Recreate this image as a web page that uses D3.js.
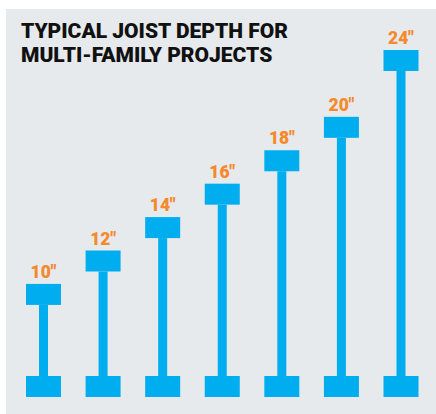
<!DOCTYPE html>
<html>
<head>
<meta charset="utf-8">
<script src="https://cdn.jsdelivr.net/npm/d3@7"></script>
<style>
  body { margin: 0; background: #fff; }
  svg { display: block; }
</style>
</head>
<body>
<svg id="chart" width="436" height="414"></svg>
<script>
// joist depths in inches, one I-beam per value
var depths = [10, 12, 14, 16, 18, 20, 24];
var depthLabels = ['10"', '12"', '14"', '16"', '18"', '20"', '24"'];
var titleLines = ['TYPICAL JOIST DEPTH FOR', 'MULTI-FAMILY PROJECTS'];

var blue = '#00aeef';
var orange = '#f5892b';

var svg = d3.select('#chart');

// grey panel
svg.append('rect')
    .attr('x', 6).attr('y', 9)
    .attr('width', 430).attr('height', 405)
    .attr('fill', '#e7eaed');

// title
svg.append('g').selectAll('text')
    .data(titleLines)
    .join('text')
    .attr('x', 21)
    .attr('y', function (d, i) { return 38 + i * 24; })
    .attr('font-family', 'Roboto, "Liberation Sans", Arial, sans-serif')
    .attr('font-weight', 900)
    .attr('font-size', 21)
    .attr('fill', '#111')
    .text(function (d) { return d; });

var x = d3.scalePoint()
    .domain(depthLabels)
    .range([43.5, 401]);

// depth -> top of the top flange
var y = d3.scaleLinear()
    .domain([0, 24])
    .range([451, 50]);

var flangeW = 35, flangeH = 21, webW = 9;
var baseTop = 376;   // top of bottom flange

var beams = svg.append('g').selectAll('g')
    .data(depths)
    .join('g')
    .attr('transform', function (d, i) { return 'translate(' + x(depthLabels[i]) + ',0)'; });

// web
beams.append('rect')
    .attr('x', -webW / 2)
    .attr('y', function (d) { return y(d) + flangeH; })
    .attr('width', webW)
    .attr('height', function (d) { return baseTop - y(d) - flangeH; })
    .attr('fill', blue);

// top flange
beams.append('rect')
    .attr('x', -flangeW / 2)
    .attr('y', function (d) { return y(d); })
    .attr('width', flangeW)
    .attr('height', flangeH)
    .attr('fill', blue);

// bottom flange
beams.append('rect')
    .attr('x', -flangeW / 2)
    .attr('y', baseTop)
    .attr('width', flangeW)
    .attr('height', flangeH)
    .attr('fill', blue);

// depth labels
beams.append('text')
    .attr('x', 0)
    .attr('y', function (d) { return y(d) - 6; })
    .attr('text-anchor', 'middle')
    .attr('font-family', 'Roboto, "Liberation Sans", Arial, sans-serif')
    .attr('font-weight', 900)
    .attr('font-size', 17.5)
    .attr('fill', orange)
    .text(function (d, i) { return depthLabels[i]; });
</script>
</body>
</html>
